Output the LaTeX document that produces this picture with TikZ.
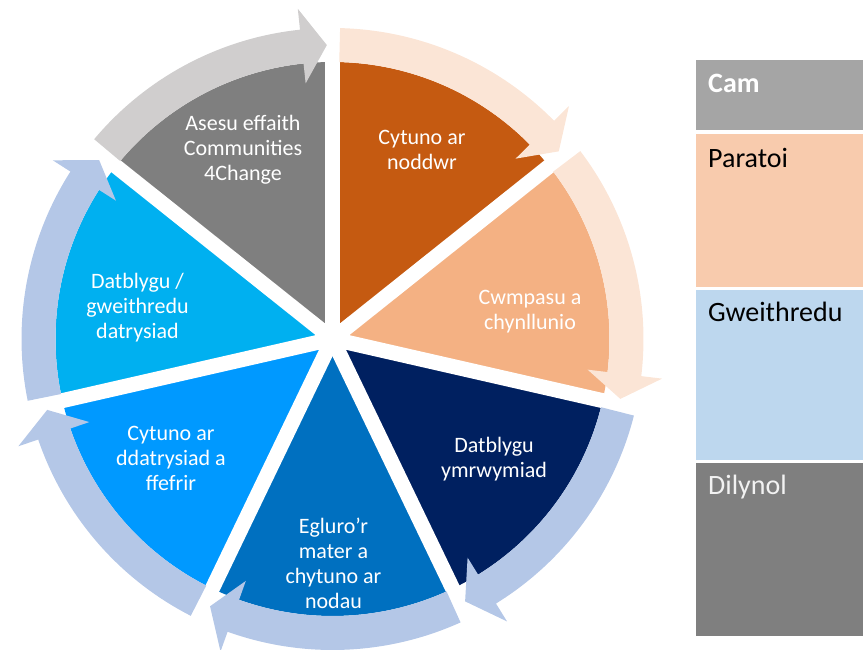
\documentclass[tikz,border=0pt]{standalone}
\usepackage{fontspec}
\setmainfont{Carlito}
\usepackage{tikz}
\usetikzlibrary{positioning, calc}

\definecolor{noddwrC}{HTML}{C55A11}
\definecolor{cwmpasuC}{HTML}{F4B183}
\definecolor{ymrwymiadC}{HTML}{002060}
\definecolor{egluroC}{HTML}{0070C0}
\definecolor{ffefrirC}{HTML}{0099FF}
\definecolor{datrysiadC}{HTML}{00B0F0}
\definecolor{asesuC}{HTML}{7F7F7F}
\definecolor{paleorangeC}{HTML}{FBE5D6}
\definecolor{palebluC}{HTML}{B4C7E7}
\definecolor{palegreyC}{HTML}{D0CECE}
\definecolor{camC}{HTML}{A5A5A5}
\definecolor{paratoiC}{HTML}{F8CBAD}
\definecolor{gweithreduC}{HTML}{BDD7EE}
\definecolor{dilynolC}{HTML}{7F7F7F}

% curved arrow round one segment: start angle, end angle, colour
\newcommand{\segarrow}[3]{%
  \fill[#3] ({#1-1.4}:311) arc[start angle={#1-1.4}, end angle={#2+6}, radius=311]
    -- ({#2+6}:332) -- ({#2+1.1}:294) -- ({#2+6}:257) -- ({#2+6}:277)
    arc[start angle={#2+6}, end angle={#1-1.4}, radius=277] -- cycle;}

\begin{document}
\begin{tikzpicture}[
			x=1pt, y=1pt,
			wedgetext/.style={text=white, align=center, inner sep=0pt, font=\fontsize{22}{25}\selectfont},
			spoke/.style={white, line width=15pt},
			rowbox/.style={rectangle, anchor=north west, minimum width=167pt, inner sep=0pt, outer sep=0pt},
			rowtext/.style={anchor=base west, inner sep=0pt, font=\fontsize{28}{32}\selectfont}
			]
			\useasboundingbox (0,0) rectangle (863,649);
			
			% --- Segmenty koła ---
			\begin{scope}[shift={(332.5,310)}]
				\fill[noddwrC] (0,0) -- (90:277) arc[start angle=90, end angle=38.571, radius=277] -- cycle;
				\fill[cwmpasuC] (0,0) -- (38.571:277) arc[start angle=38.571, end angle=-12.857, radius=277] -- cycle;
				\fill[ymrwymiadC] (0,0) -- (-12.857:277) arc[start angle=-12.857, end angle=-64.286, radius=277] -- cycle;
				\fill[egluroC] (0,0) -- (-64.286:277) arc[start angle=-64.286, end angle=-115.714, radius=277] -- cycle;
				\fill[ffefrirC] (0,0) -- (-115.714:277) arc[start angle=-115.714, end angle=-167.143, radius=277] -- cycle;
				\fill[datrysiadC] (0,0) -- (-167.143:277) arc[start angle=-167.143, end angle=-218.571, radius=277] -- cycle;
				\fill[asesuC] (0,0) -- (141.429:277) arc[start angle=141.429, end angle=90, radius=277] -- cycle;
				
				% --- Białe przerwy ---
				\draw[spoke] (0,0) -- (90:281);
				\draw[spoke] (0,0) -- (38.571:281);
				\draw[spoke] (0,0) -- (-12.857:281);
				\draw[spoke] (0,0) -- (-64.286:281);
				\draw[spoke] (0,0) -- (-115.714:281);
				\draw[spoke] (0,0) -- (-167.143:281);
				\draw[spoke] (0,0) -- (141.429:281);
				
				% --- Strzałki wokół koła ---
				\segarrow{90}{38.571}{paleorangeC}
				\segarrow{38.571}{-12.857}{paleorangeC}
				\segarrow{-12.857}{-64.286}{palebluC}
				\segarrow{-64.286}{-115.714}{palebluC}
				\segarrow{-115.714}{-167.143}{palebluC}
				\segarrow{-167.143}{-218.571}{palebluC}
				\segarrow{141.429}{90}{palegreyC}
			\end{scope}
			
			% --- Opisy segmentów ---
			\node[wedgetext] (noddwr) at (422,499) {Cytuno ar\\noddwr};
			\node[wedgetext] (cwmpasu) at (530,337) {Cwmpasu a\\chynllunio};
			\node[wedgetext] (ymrwymiad) at (494,190) {Datblygu\\ymrwymiad};
			\node[wedgetext] (egluro) at (333.5,86) {Egluro’r\\mater a\\chytuno ar\\nodau};
			\node[wedgetext] (ffefrir) at (171,191) {Cytuno ar\\ddatrysiad a\\ffefrir};
			\node[wedgetext] (gweithredu) at (137.5,341) {Datblygu /\\gweithredu\\datrysiad};
			\node[wedgetext] (asesu) at (243,499) {Asesu effaith\\Communities\\4Change};
			
			% --- Tabela etapów ---
			\node[rowbox, fill=camC, minimum height=70pt] (cam) at (696,589) {};
			\node[rowbox, fill=paratoiC, minimum height=153pt] (paratoi) at (696,515) {};
			\node[rowbox, fill=gweithreduC, minimum height=170pt] (gweithr) at (696,359) {};
			\node[rowbox, fill=dilynolC, minimum height=173pt] (dilynol) at (696,186) {};
			
			\node[rowtext, text=white] (camtext) at ($(cam.north west)+(12,-33)$) {\textbf{Cam}};
			\node[rowtext, text=black] (paratoitext) at ($(paratoi.north west)+(12,-34)$) {Paratoi};
			\node[rowtext, text=black] (gweithrtext) at ($(gweithr.north west)+(12,-32)$) {Gweithredu};
			\node[rowtext, text=white!95!black] (dilynoltext) at ($(dilynol.north west)+(12,-32)$) {Dilynol};
			
		\end{tikzpicture}
\end{document}
